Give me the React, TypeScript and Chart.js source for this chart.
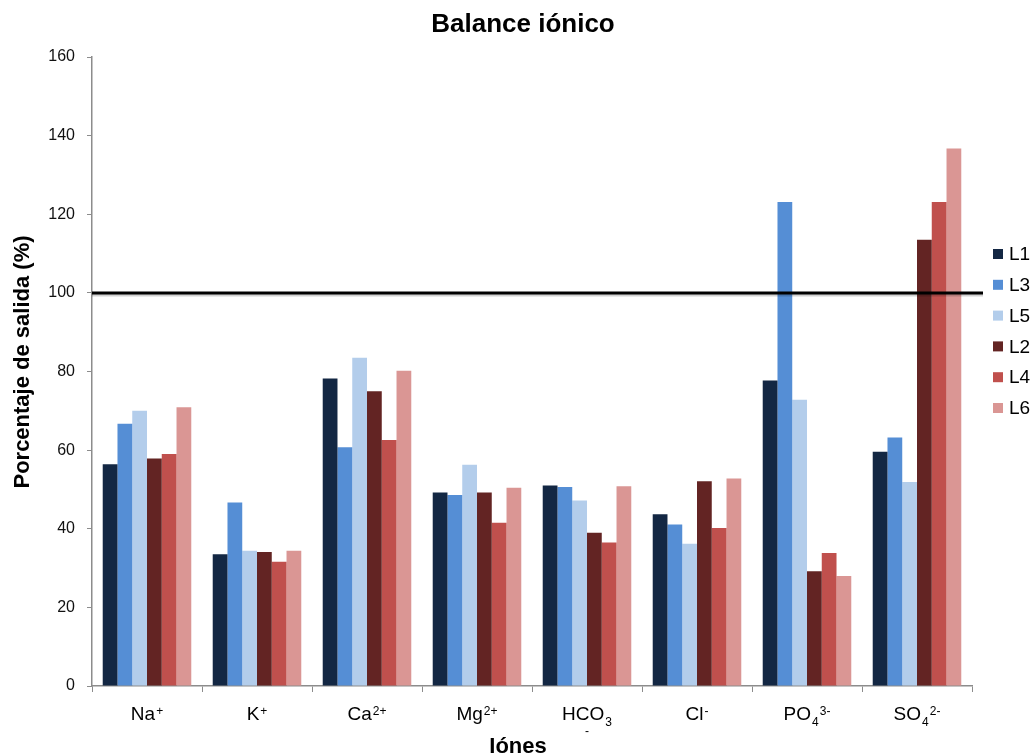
import React, { useEffect, useRef } from "react";
import { Chart, registerables } from "chart.js";

Chart.register(...registerables);

// Ions on the category axis, drawn as base + subscript + superscript
const ionBase = ["Na", "K", "Ca", "Mg", "HCO", "Cl", "PO", "SO"];
const ionSub = ["", "", "", "", "3", "", "4", "4"];
const ionSup = ["+", "+", "2+", "2+", "-", "-", "3-", "2-"];
const categories = ["Na⁺", "K⁺", "Ca²⁺", "Mg²⁺", "HCO₃⁻", "Cl⁻", "PO₄³⁻", "SO₄²⁻"];

// Output percentage per series
const L1 = [56.4, 33.5, 78.2, 49.2, 51.0, 43.7, 77.7, 59.6];
const L3 = [66.7, 46.7, 60.7, 48.6, 50.6, 41.1, 123.1, 63.2];
const L5 = [70.0, 34.4, 83.5, 56.3, 47.2, 36.2, 72.8, 51.9];
const L2 = [57.9, 34.1, 75.0, 49.2, 39.0, 52.1, 29.2, 113.5];
const L4 = [59.0, 31.6, 62.6, 41.5, 36.5, 40.2, 33.8, 123.1];
const L6 = [70.9, 34.4, 80.2, 50.4, 50.8, 52.8, 28.0, 136.7];

const seriesNames = ["L1", "L3", "L5", "L2", "L4", "L6"];
const seriesData = [L1, L3, L5, L2, L4, L6];
const seriesColors = ["#132743", "#558ED5", "#B3CDEB", "#632423", "#C0504D", "#DA9694"];

const yTicks = [0, 20, 40, 60, 80, 100, 120, 140, 160];
const referenceLevel = 100;

const FONT = "'Liberation Sans', Arial, sans-serif";

const decorations = {
  id: "decorations",
  afterDatasetsDraw(chart: any) {
    const { ctx, chartArea, scales } = chart;
    const y = scales.y.getPixelForValue(referenceLevel);
    ctx.save();
    ctx.strokeStyle = "rgba(0,0,0,0.18)";
    ctx.lineWidth = 3;
    ctx.beginPath();
    ctx.moveTo(chartArea.left, y + 2);
    ctx.lineTo(chartArea.right + 11, y + 2);
    ctx.stroke();
    ctx.strokeStyle = "#000";
    ctx.lineWidth = 3;
    ctx.beginPath();
    ctx.moveTo(chartArea.left, y);
    ctx.lineTo(chartArea.right + 11, y);
    ctx.stroke();
    ctx.restore();
  },
  afterDraw(chart: any) {
    const { ctx, scales } = chart;
    ctx.save();
    ctx.fillStyle = "#000";
    ctx.textBaseline = "alphabetic";

    // Title
    ctx.font = `bold 26px ${FONT}`;
    ctx.textAlign = "center";
    ctx.fillText("Balance iónico", 523, 32);

    // Axis titles
    ctx.font = `bold 22px ${FONT}`;
    ctx.fillText("Iónes", 518, 753);
    ctx.save();
    ctx.translate(29, 362);
    ctx.rotate(-Math.PI / 2);
    ctx.fillText("Porcentaje de salida (%)", 0, 0);
    ctx.restore();

    // Category labels with sub/superscripts
    const baseFont = `19px ${FONT}`;
    const smallFont = `12px ${FONT}`;
    ctx.textAlign = "left";
    ionBase.forEach((b, i) => {
      const cx = scales.x.getPixelForValue(i);
      ctx.font = baseFont;
      const wb = ctx.measureText(b).width;
      ctx.font = smallFont;
      const ws = ionSub[i] ? ctx.measureText(ionSub[i]).width + 1 : 0;
      const wrapSup = ionSub[i] === "3";
      const wp = wrapSup ? 0 : ctx.measureText(ionSup[i]).width + 1;
      let x = cx - (wb + ws + wp) / 2;
      ctx.font = baseFont;
      ctx.fillText(b, x, 720);
      x += wb + 1;
      ctx.font = smallFont;
      if (ionSub[i]) {
        ctx.fillText(ionSub[i], x, 726);
        x += ws;
      }
      if (wrapSup) {
        ctx.textAlign = "center";
        ctx.fillText(ionSup[i], cx, 735);
        ctx.textAlign = "left";
      } else {
        ctx.fillText(ionSup[i], x, 715);
      }
    });

    // Legend
    ctx.font = `19px ${FONT}`;
    ctx.textBaseline = "middle";
    seriesNames.forEach((n, i) => {
      const ly = 254 + i * 30.8;
      ctx.fillStyle = seriesColors[i];
      ctx.fillRect(993, ly - 5, 10, 10);
      ctx.fillStyle = "#000";
      ctx.fillText(n, 1009, ly + 1);
    });
    ctx.restore();
  },
};

export default function App() {
  const canvasRef = useRef<HTMLCanvasElement | null>(null);

  useEffect(() => {
    document.body.style.margin = "0";
    const canvas = canvasRef.current;
    if (!canvas) return;
    const chart = new Chart(canvas, {
      type: "bar",
      data: {
        labels: categories,
        datasets: seriesNames.map((n, i) => ({
          label: n,
          data: seriesData[i],
          backgroundColor: seriesColors[i],
          borderWidth: 0,
          barPercentage: 1,
          categoryPercentage: 0.805,
        })),
      },
      options: {
        responsive: false,
        animation: false,
        devicePixelRatio: 1,
        layout: { padding: { top: 57, right: 62, left: 0, bottom: 0 } },
        plugins: {
          legend: { display: false },
          title: { display: false },
          tooltip: { enabled: false },
        },
        scales: {
          x: {
            grid: {
              display: true,
              drawOnChartArea: false,
              drawTicks: true,
              tickLength: 6,
              color: "#8c8c8c",
              offset: true,
            },
            border: { color: "#8c8c8c", width: 1.5 },
            ticks: { callback: () => "", font: { size: 1 } },
            afterFit: (s: any) => {
              s.height = 69;
            },
          },
          y: {
            min: 0,
            max: 160,
            afterBuildTicks: (s: any) => {
              s.ticks = yTicks.map((v) => ({ value: v }));
            },
            grid: {
              display: true,
              drawOnChartArea: false,
              tickLength: 5,
              color: "#8c8c8c",
            },
            border: { color: "#8c8c8c", width: 1.5 },
            ticks: {
              padding: 12,
              color: "#111",
              font: { family: FONT, size: 16 },
            },
            afterFit: (s: any) => {
              s.width = 92;
            },
          },
        },
      },
      plugins: [decorations],
    });
    return () => chart.destroy();
  }, []);

  return (
    <div style={{ position: "absolute", left: 0, top: 0, width: 1034, height: 755, background: "#fff" }}>
      <canvas ref={canvasRef} width={1034} height={755} />
    </div>
  );
}
